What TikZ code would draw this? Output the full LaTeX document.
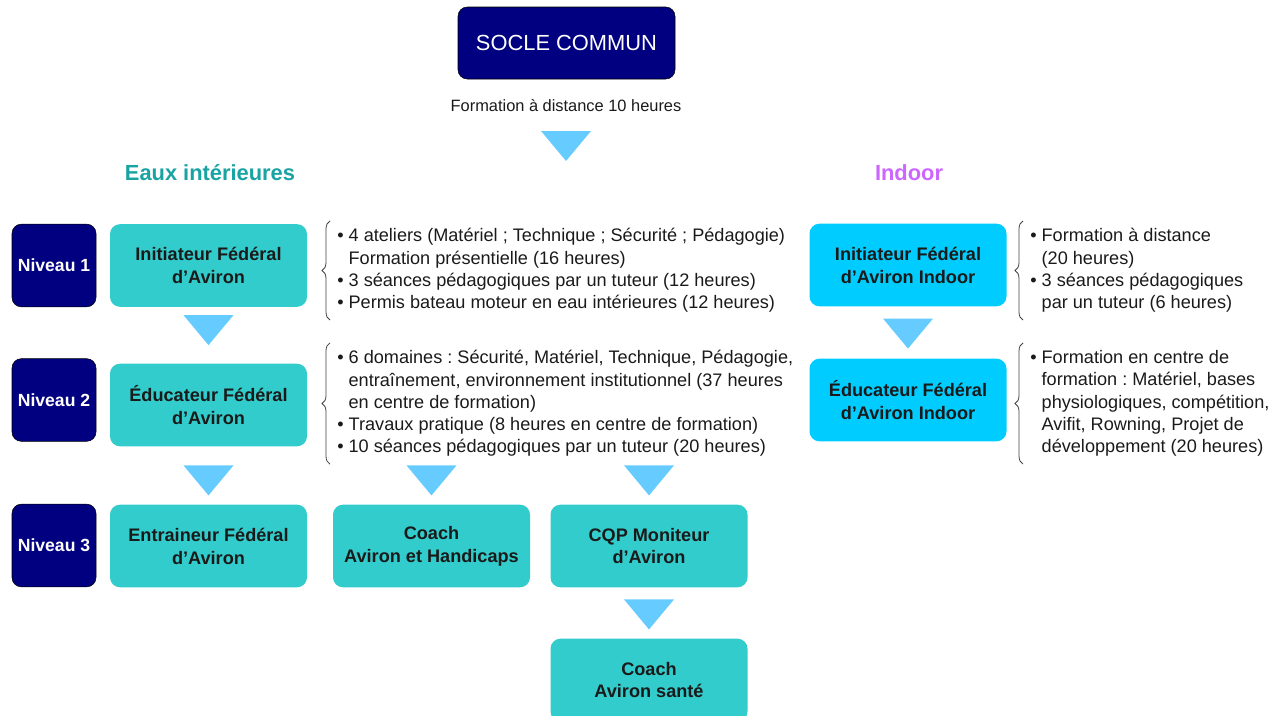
\documentclass[tikz,border=0pt]{standalone}
\usepackage{fontspec}
\setmainfont{Liberation Sans}
\usetikzlibrary{calc, decorations.pathreplacing}
\frenchspacing
\definecolor{marine}{HTML}{000080}
\definecolor{turquoise}{HTML}{33CCCC}
\definecolor{ciel}{HTML}{00CCFF}
\definecolor{flechebleu}{HTML}{66CCFF}
\definecolor{eauxtitre}{HTML}{1AA3A3}
\definecolor{indoortitre}{HTML}{CC66FF}
\definecolor{encre}{HTML}{1A1A1A}
\newcommand{\fleche}[1]{\fill[flechebleu] #1 ++(-25,-15) -- ++(50,0) -- ++(-25,30) -- cycle;}
\newcommand{\puce}{•\ }
\newcommand{\suite}{\hphantom{•\ }}

\begin{document}
\begin{tikzpicture}[x=0.75pt, y=-0.75pt,
  texte/.style={font=\fontsize{13.6}{16.7}\selectfont, text=encre},
  socle/.style={draw=black, fill=marine, text=white, rounded corners=7pt, minimum width=162.75pt, minimum height=54pt, font=\fontsize{16.4}{19}\selectfont},
  titre/.style={font=\fontsize{16.4}{19}\selectfont\bfseries},
  niveau/.style={draw=black, fill=marine, text=white, rounded corners=7pt, minimum width=63pt, minimum height=62pt, inner sep=0pt, font=\fontsize{13.2}{16}\selectfont\bfseries},
  boite/.style={fill=turquoise, rounded corners=7.5pt, minimum width=147.75pt, minimum height=62pt, inner sep=0pt, align=center, text=encre, font=\fontsize{13.6}{17.2}\selectfont\bfseries},
  boiteindoor/.style={boite, fill=ciel},
  note/.style={texte, align=left, anchor=west, inner xsep=0pt, inner ysep=5.5pt},
  accolade/.style={decorate, decoration={brace, amplitude=6pt}, draw=black!75, line width=0.6pt}]
\useasboundingbox (0,0) rectangle (1276,715);
\clip (0,0) rectangle (1276,715);

\node[socle] (socle) at (566.5,43) {SOCLE COMMUN};
\node[texte, font=\fontsize{12.3}{14}\selectfont] (distance) at (566,106) {Formation à distance 10 heures};
\node[titre, text=eauxtitre] (eaux) at (210,173) {Eaux intérieures};
\node[titre, text=indoortitre] (indoor) at (909,173) {Indoor};

\node[niveau] (niv1) at (54,265.5) {Niveau 1};
\node[niveau] (niv2) at (54,400) {Niveau 2};
\node[niveau] (niv3) at (54,545.5) {Niveau 3};

\node[boite] (init) at (208.5,265.5) {Initiateur Fédéral\\d’Aviron};
\node[boite] (educ) at (208.5,405) {Éducateur Fédéral\\d’Aviron};
\node[boite] (entr) at (208.5,546) {Entraineur Fédéral\\d’Aviron};
\node[boite] (coachh) at (431.5,546) {Coach\\Aviron et Handicaps};
\node[boite] (cqp) at (649,546) {CQP Moniteur\\d’Aviron};
\node[boite] (sante) at (649,680) {Coach\\Aviron santé};
\node[boiteindoor] (initin) at (908,265) {Initiateur Fédéral\\d’Aviron Indoor};
\node[boiteindoor] (educin) at (908,400) {Éducateur Fédéral\\d’Aviron Indoor};

\node[note] (note1) at (337,270.5) {\puce 4 ateliers (Matériel ; Technique ; Sécurité ; Pédagogie)\\
\suite Formation présentielle (16 heures)\\
\puce 3 séances pédagogiques par un tuteur (12 heures)\\
\puce Permis bateau moteur en eau intérieures (12 heures)};
\node[note] (note2) at (337,403.5) {\puce 6 domaines : Sécurité, Matériel, Technique, Pédagogie,\\
\suite entraînement, environnement institutionnel (37 heures\\
\suite en centre de formation)\\
\puce Travaux pratique (8 heures en centre de formation)\\
\puce 10 séances pédagogiques par un tuteur (20 heures)};
\node[note] (note3) at (1030,270.5) {\puce Formation à distance\\
\suite (20 heures)\\
\puce 3 séances pédagogiques\\
\suite par un tuteur (6 heures)};
\node[note] (note4) at (1030,403.5) {\puce Formation en centre de\\
\suite formation : Matériel, bases\\
\suite physiologiques, compétition,\\
\suite Avifit, Rowning, Projet de\\
\suite développement (20 heures)};

\draw[accolade] ([xshift=-5.25pt]note1.south west) -- ([xshift=-5.25pt]note1.north west);
\draw[accolade] ([xshift=-5.25pt]note2.south west) -- ([xshift=-5.25pt]note2.north west);
\draw[accolade] ([xshift=-5.25pt]note3.south west) -- ([xshift=-5.25pt]note3.north west);
\draw[accolade] ([xshift=-5.25pt]note4.south west) -- ([xshift=-5.25pt]note4.north west);

\fleche{($(distance)+(0,40)$)}
\fleche{($(init.south)+(0,23)$)}
\fleche{($(entr.north)+(0,-24)$)}
\fleche{($(coachh.north)+(0,-24)$)}
\fleche{($(cqp.north)+(0,-24)$)}
\fleche{($(sante.north)+(0,-24)$)}
\fleche{($(initin.south)+(0,27)$)}
\end{tikzpicture}
\end{document}
